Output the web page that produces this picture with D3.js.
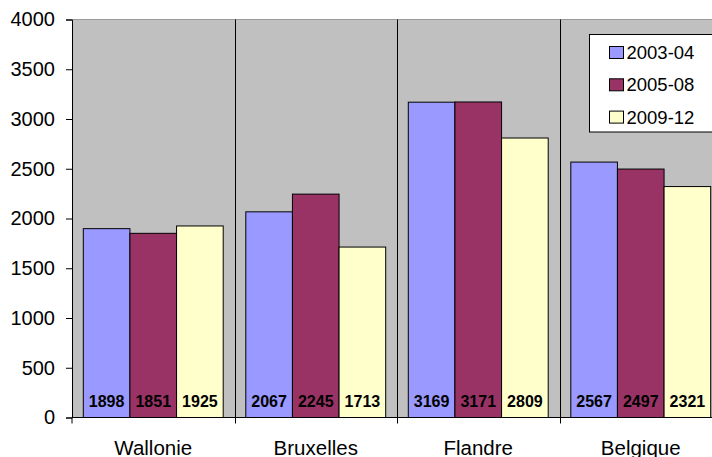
<!DOCTYPE html>
<html>
<head>
<meta charset="utf-8">
<script src="https://cdn.jsdelivr.net/npm/d3@7"></script>
<style>
  body { margin: 0; background: #fff; }
  svg { display: block; font-family: "Liberation Sans", Arial, sans-serif; }
</style>
</head>
<body>
<svg id="chart" width="712" height="457"></svg>
<script>
// chart data
const regions = ["Wallonie", "Bruxelles", "Flandre", "Belgique"];
const periods = ["2003-04", "2005-08", "2009-12"];
const values2003 = [1898, 2067, 3169, 2567];
const values2005 = [1851, 2245, 3171, 2497];
const values2009 = [1925, 1713, 2809, 2321];
const yTicks = [0, 500, 1000, 1500, 2000, 2500, 3000, 3500, 4000];
const colors = ["#9999ff", "#993366", "#ffffcc"];

const series = [values2003, values2005, values2009];
const rows = regions.map((r, i) => ({
  region: r,
  vals: periods.map((p, j) => ({ period: p, value: series[j][i] }))
}));

const margin = { top: 19.5, left: 72, bottom: 39.5 };
const plotRight = 722; // plot runs past the right edge of the picture
const height = 457;

const svg = d3.select("#chart");

const x0 = d3.scaleBand()
    .domain(regions)
    .range([margin.left, plotRight]);

const x1 = d3.scaleBand()
    .domain(periods)
    .range([11.3, x0.bandwidth() - 11.3]);

const y = d3.scaleLinear()
    .domain([0, 4000])
    .range([height - margin.bottom, margin.top]);

// plot background
svg.append("rect")
    .attr("x", margin.left)
    .attr("y", y(4000))
    .attr("width", plotRight - margin.left)
    .attr("height", y(0) - y(4000))
    .attr("fill", "#c0c0c0");

svg.append("line")
    .attr("x1", margin.left).attr("x2", plotRight)
    .attr("y1", y(4000)).attr("y2", y(4000))
    .attr("stroke", "#9a9a9a");

// category separators
svg.selectAll(".sep")
    .data(regions.slice(1))
  .join("line")
    .attr("class", "sep")
    .attr("x1", d => Math.round(x0(d)) + 0.5)
    .attr("x2", d => Math.round(x0(d)) + 0.5)
    .attr("y1", y(4000))
    .attr("y2", y(0) + 6)
    .attr("stroke", "#000");

// bars
const groups = svg.selectAll(".grp")
    .data(rows)
  .join("g")
    .attr("class", "grp")
    .attr("transform", d => `translate(${x0(d.region)},0)`);

groups.selectAll("rect")
    .data(d => d.vals)
  .join("rect")
    .attr("x", d => x1(d.period))
    .attr("y", d => y(d.value))
    .attr("width", x1.bandwidth())
    .attr("height", d => y(0) - y(d.value))
    .attr("fill", (d, i) => colors[i])
    .attr("stroke", "#000")
    .attr("stroke-width", 1);

groups.selectAll("text")
    .data(d => d.vals)
  .join("text")
    .attr("x", d => x1(d.period) + x1.bandwidth() / 2)
    .attr("y", y(0) - 10.5)
    .attr("text-anchor", "middle")
    .style("font-size", "16px")
    .style("font-weight", "bold")
    .text(d => d.value);

// y axis
const yAxis = svg.append("g")
    .attr("transform", `translate(${margin.left},0)`)
    .call(d3.axisLeft(y).tickValues(yTicks).tickSize(6).tickPadding(11).tickFormat(d3.format("d")));
yAxis.select(".domain").attr("stroke", "#000");
yAxis.selectAll("text")
    .style("font-size", "20px")
    .attr("fill", "#000");

// x axis
svg.append("line")
    .attr("x1", margin.left).attr("x2", plotRight)
    .attr("y1", y(0)).attr("y2", y(0))
    .attr("stroke", "#000");
svg.append("line")
    .attr("x1", margin.left).attr("x2", margin.left)
    .attr("y1", y(0)).attr("y2", y(0) + 6)
    .attr("stroke", "#000");

svg.selectAll(".cat")
    .data(regions)
  .join("text")
    .attr("class", "cat")
    .attr("x", d => x0(d) + x0.bandwidth() / 2)
    .attr("y", 454.5)
    .attr("text-anchor", "middle")
    .style("font-size", "20.5px")
    .text(d => d);

// legend
const legend = svg.append("g").attr("transform", "translate(589.5,34.5)");
legend.append("rect")
    .attr("width", 140)
    .attr("height", 97.5)
    .attr("fill", "#fff")
    .attr("stroke", "#000");

const items = legend.selectAll(".item")
    .data(periods)
  .join("g")
    .attr("class", "item")
    .attr("transform", (d, i) => `translate(20,${18 + i * 32.3})`);

items.append("rect")
    .attr("y", -6)
    .attr("width", 14)
    .attr("height", 12)
    .attr("fill", (d, i) => colors[i])
    .attr("stroke", "#000");

items.append("text")
    .attr("x", 17)
    .attr("dy", "0.35em")
    .style("font-size", "18.5px")
    .text(d => d);
</script>
</body>
</html>
